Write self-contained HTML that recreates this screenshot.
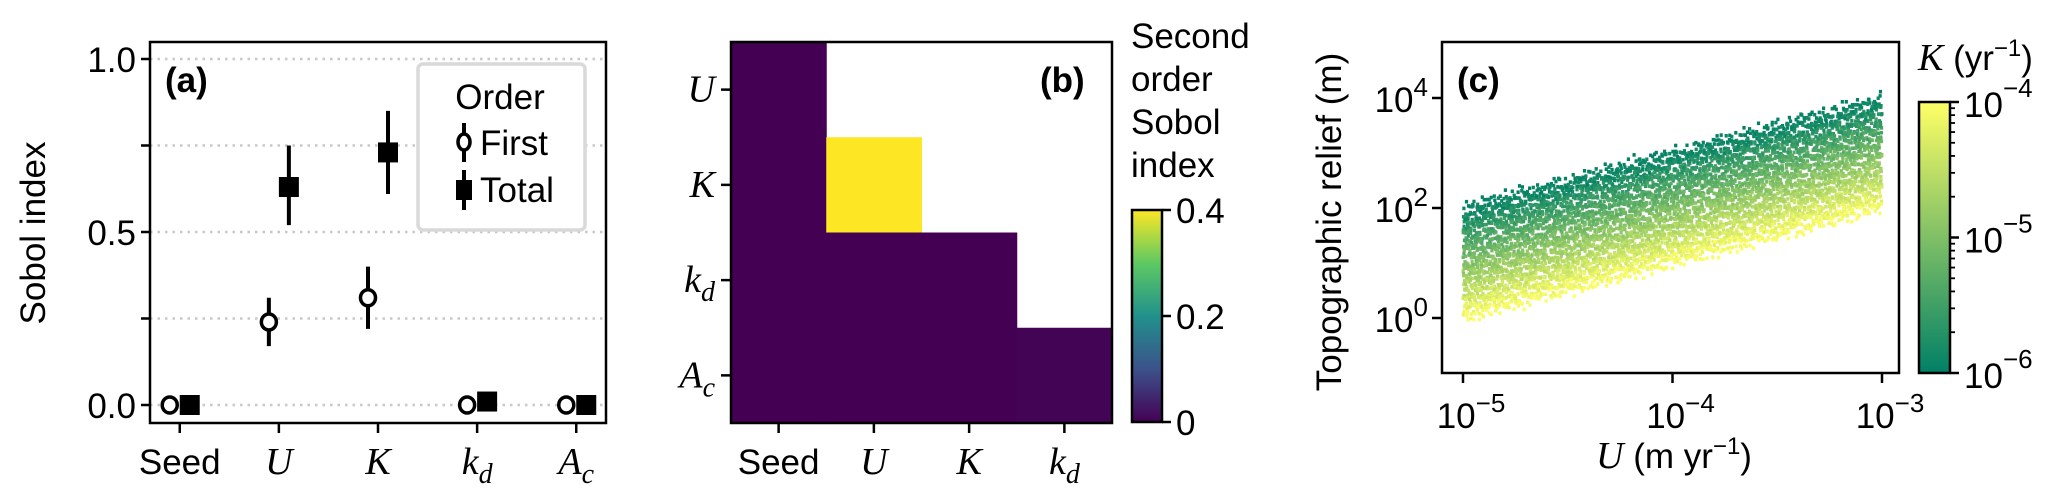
<!DOCTYPE html>
<html><head><meta charset="utf-8">
<style>
html,body{margin:0;padding:0;background:#fff;}
svg{display:block;font-family:"Liberation Sans",sans-serif;}
.t{font-size:35px;fill:#000;}
.m{font-family:"Liberation Serif",serif;font-style:italic;font-size:38px;fill:#000;}
</style></head>
<body>
<svg id="fig" width="2067" height="499" viewBox="0 0 2067 499" xmlns="http://www.w3.org/2000/svg">
<defs>
<linearGradient id="vir" x1="0" y1="1" x2="0" y2="0">
<stop offset="0" stop-color="#440154"/><stop offset="0.25" stop-color="#3b528b"/><stop offset="0.5" stop-color="#21918c"/><stop offset="0.75" stop-color="#5ec962"/><stop offset="1" stop-color="#fde725"/>
</linearGradient>
<linearGradient id="sum" x1="0" y1="1" x2="0" y2="0">
<stop offset="0" stop-color="#008066"/><stop offset="1" stop-color="#ffff66"/>
</linearGradient>
</defs>
<g id="pa"></g>
<g id="pb"></g>
<g id="pc"></g>
</svg>
<script>
// ---- Panel (a) data ----
const aCats = ["Seed","U","K","kd","Ac"];
const firstVals = [0.0, 0.24, 0.31, 0.0, 0.0];
const firstLo = [0.0, 0.17, 0.22, 0.0, 0.0];
const firstHi = [0.0, 0.31, 0.40, 0.0, 0.0];
const totalVals = [0.0, 0.63, 0.73, 0.01, 0.0];
const totalLo = [0.0, 0.52, 0.61, 0.01, 0.0];
const totalHi = [0.0, 0.75, 0.85, 0.01, 0.0];
const aYTicks = [0, 0.25, 0.5, 0.75, 1.0];
const aYTickLabels = ["0.0", "", "0.5", "", "1.0"];
// ---- Panel (b) data ----
const bRows = ["U","K","kd","Ac"];
const bCols = ["Seed","U","K","kd"];
const bVals = [
 [0.0, null, null, null],
 [0.0, 0.40, null, null],
 [0.0, 0.0, 0.0, null],
 [0.0, 0.0, 0.0, 0.004]
];
const bCbTicks = [0, 0.2, 0.4];
const bCbLabels = ["0", "0.2", "0.4"];
// ---- Panel (c) data ----
const cXTicks = [-5, -4, -3];
const cYTicks = [0, 2, 4];
const cCbTicks = [-6, -5, -4];
const cRelief = 10; // relief = cRelief * U / K
const cN = 6500;

const NS = "http://www.w3.org/2000/svg";
function mk(parent, tag, attrs, text){
  const e = document.createElementNS(NS, tag);
  for (const k in attrs) e.setAttribute(k, attrs[k]);
  if (text !== undefined) e.textContent = text;
  parent.appendChild(e);
  return e;
}
function mathLabel(g, sym, x, y, anchor){
  const t = mk(g, "text", {x:x, y:y, "text-anchor":anchor, class:"m"});
  const map = {U:["U",""],K:["K",""],kd:["k","d"],Ac:["A","c"]};
  const p = map[sym];
  const a = document.createElementNS(NS,"tspan"); a.textContent = p[0]; t.appendChild(a);
  if (p[1]) { const b = document.createElementNS(NS,"tspan"); b.setAttribute("dy","9"); b.setAttribute("font-size","28"); b.textContent = p[1]; t.appendChild(b); }
  return t;
}

// ================= Panel (a) =================
(function(){
  const g = document.getElementById("pa");
  const L=150,R=606,T=42,B=423;
  const xs = i => L + (i + 0.3) / 4.6 * (R - L);
  const ys = v => 405 - v * 346;
  aYTicks.forEach((v,i)=>{
    const gl = mk(g,"line",{x1:L,x2:R,y1:ys(v),y2:ys(v),stroke:"#c8c8c8","stroke-width":2.5,"stroke-dasharray":"2.5 5"});
    
    
    mk(g,"line",{x1:L-9,x2:L,y1:ys(v),y2:ys(v),stroke:"#000","stroke-width":2.5});
    if (aYTickLabels[i]) {
      const tl = mk(g,"text",{x:L-14,y:ys(v)+13,"text-anchor":"end",class:"t"},aYTickLabels[i]);
      
      
    }
  });
  aCats.forEach((c,i)=>{
    mk(g,"line",{x1:xs(i),x2:xs(i),y1:B,y2:B+10,stroke:"#000","stroke-width":2.5});
    let lab;
    if (c==="Seed") lab = mk(g,"text",{x:xs(i),y:474,"text-anchor":"middle",class:"t"},"Seed");
    else lab = mathLabel(g,c,xs(i),474,"middle");
    
    
  });
  aCats.forEach((c,i)=>{
    const fx = xs(i)-10, tx = xs(i)+10;
    const e1 = mk(g,"line",{x1:fx,x2:fx,y1:ys(firstLo[i]),y2:ys(firstHi[i]),stroke:"#000","stroke-width":4});
    
    
    const p1 = mk(g,"ellipse",{cx:fx,cy:ys(firstVals[i]),rx:7.5,ry:8,fill:"#fff",stroke:"#000","stroke-width":3.5});
    
    
    const e2 = mk(g,"line",{x1:tx,x2:tx,y1:ys(totalLo[i]),y2:ys(totalHi[i]),stroke:"#000","stroke-width":4});
    
    
    const p2 = mk(g,"rect",{x:tx-10,y:ys(totalVals[i])-10,width:20,height:20,fill:"#000"});
    
    
  });
  const fr = mk(g,"rect",{x:L,y:T,width:R-L,height:B-T,fill:"none",stroke:"#000","stroke-width":2.5});
  
  
  const yl = mk(g,"text",{x:0,y:0,"text-anchor":"middle",class:"t",transform:"translate(45,233) rotate(-90)"},"Sobol index");
  
  
  const pl = mk(g,"text",{x:165,y:92,class:"t","font-weight":"bold","font-size":"32"},"(a)");
  
  
  const lg = mk(g,"g",{});
  
  
  mk(lg,"rect",{x:418,y:64,width:167,height:166,rx:5,fill:"#fff",stroke:"#d9d9d9","stroke-width":3.5});
  mk(lg,"text",{x:500,y:109,"text-anchor":"middle",class:"t"},"Order");
  const le1 = mk(lg,"g",{});
  
  
  mk(le1,"line",{x1:464,x2:464,y1:123,y2:162,stroke:"#000","stroke-width":4});
  mk(le1,"ellipse",{cx:464,cy:142,rx:6,ry:8,fill:"#fff",stroke:"#000","stroke-width":3.5});
  mk(le1,"text",{x:480,y:155,class:"t"},"First");
  const le2 = mk(lg,"g",{});
  
  
  mk(le2,"line",{x1:464,x2:464,y1:170,y2:210,stroke:"#000","stroke-width":4});
  mk(le2,"rect",{x:456,y:180,width:16,height:20,fill:"#000"});
  mk(le2,"text",{x:480,y:202,class:"t"},"Total");
})();

// ================= Panel (b) =================
(function(){
  const g = document.getElementById("pb");
  const L=731,R=1112,T=42,B=423;
  const cw=(R-L)/bCols.length, rh=(B-T)/bRows.length;
  function vir(v){
    const t=Math.max(0,Math.min(1,v/0.4));
    const st=[[68,1,84],[59,82,139],[33,145,140],[94,201,98],[253,231,37]];
    const f=t*4, i=Math.min(3,Math.floor(f)), r=f-i;
    const c=st[i].map((a,k)=>Math.round(a+(st[i+1][k]-a)*r));
    return "rgb("+c.join(",")+")";
  }
  bRows.forEach((rname,r)=>{
    bCols.forEach((cname,c)=>{
      const v=bVals[r][c];
      if (v===null) return;
      const cell = mk(g,"rect",{x:L+c*cw,y:T+r*rh,width:cw+0.5,height:rh+0.5,fill:vir(v)});
      
      
    });
    mk(g,"line",{x1:L-10,x2:L,y1:T+(r+0.5)*rh,y2:T+(r+0.5)*rh,stroke:"#000","stroke-width":2.5});
    const lab = mathLabel(g,rname,L-16,T+(r+0.5)*rh+12,"end");
    
    
  });
  bCols.forEach((cname,c)=>{
    const x=L+(c+0.5)*cw;
    mk(g,"line",{x1:x,x2:x,y1:B,y2:B+10,stroke:"#000","stroke-width":2.5});
    let lab;
    if (cname==="Seed") lab = mk(g,"text",{x:x,y:474,"text-anchor":"middle",class:"t"},"Seed");
    else lab = mathLabel(g,cname,x,474,"middle");
    
    
  });
  const fr = mk(g,"rect",{x:L,y:T,width:R-L,height:B-T,fill:"none",stroke:"#000","stroke-width":2.5});
  
  
  const pl = mk(g,"text",{x:1040,y:92,class:"t","font-weight":"bold","font-size":"32"},"(b)");
  
  
  const cL=1132,cR=1162,cT=210,cB=422;
  const cb = mk(g,"rect",{x:cL,y:cT,width:cR-cL,height:cB-cT,fill:"url(#vir)",stroke:"#000","stroke-width":2.5});
  
  
  bCbTicks.forEach((v,i)=>{
    const y=cB-(v/0.4)*(cB-cT);
    mk(g,"line",{x1:cR,x2:cR+9,y1:y,y2:y,stroke:"#000","stroke-width":2.5});
    const tl = mk(g,"text",{x:cR+14,y:y+13,class:"t"},bCbLabels[i]);
    
    
  });
  const ct = mk(g,"text",{x:1131,y:0,class:"t"});
  
  
  ["Second","order","Sobol","index"].forEach((w,i)=>{
    const s=document.createElementNS(NS,"tspan");
    s.setAttribute("x",1131); s.setAttribute("y",48+i*43); s.textContent=w; ct.appendChild(s);
  });
})();

// ================= Panel (c) =================
(function(){
  const g = document.getElementById("pc");
  const L=1442,R=1899,T=42,B=373;
  const xs = lu => 1463 + (lu + 5) * 209.5;
  const ys = lr => 318 - lr * 55;
  function halton(i,b){let f=1,r=0;while(i>0){f/=b;r+=f*(i%b);i=Math.floor(i/b);}return r;}
  const pts = mk(g,"g",{});
  
  
  for (let i=1;i<=cN;i++){
    const lu=-5+2*halton(i,2);
    const lk=-6+2*halton(i,3);
    const jitter=(halton(i,5)-0.5)*0.3;
    const lr=Math.log10(cRelief)+lu-lk+jitter;
    const t=(lk+6)/2;
    const col="rgb("+Math.round(255*t)+","+Math.round(128+127*t)+",102)";
    const p = mk(pts,"rect",{x:(xs(lu)-1.6).toFixed(1),y:(ys(lr)-1.8).toFixed(1),width:3.2,height:3.6,fill:col});
    
    
  }
  cXTicks.forEach(v=>{
    const x=xs(v);
    mk(g,"line",{x1:x,x2:x,y1:B,y2:B+10,stroke:"#000","stroke-width":2.5});
    const t = mk(g,"text",{x:x+8,y:428,"text-anchor":"middle",class:"t"});
    
    
    t.innerHTML='<tspan>10</tspan><tspan dy="-16" font-size="26">\u2212'+(-v)+'</tspan>';
  });
  cYTicks.forEach(v=>{
    const y=ys(v);
    mk(g,"line",{x1:L-10,x2:L,y1:y,y2:y,stroke:"#000","stroke-width":2.5});
    const t = mk(g,"text",{x:L-14,y:y+14,"text-anchor":"end",class:"t"});
    
    
    t.innerHTML='<tspan>10</tspan><tspan dy="-16" font-size="26">'+v+'</tspan>';
  });
  const fr = mk(g,"rect",{x:L,y:T,width:R-L,height:B-T,fill:"none",stroke:"#000","stroke-width":2.5});
  
  
  const pl = mk(g,"text",{x:1457,y:92,class:"t","font-weight":"bold","font-size":"32"},"(c)");
  
  
  const yl = mk(g,"text",{x:0,y:0,"text-anchor":"middle",class:"t",transform:"translate(1341,222) rotate(-90)"},"Topographic relief (m)");
  
  
  const xl = mk(g,"text",{x:1674,y:468,"text-anchor":"middle",class:"t"});
  
  
  xl.innerHTML='<tspan font-family="Liberation Serif" font-style="italic" font-size="38">U</tspan><tspan> (m yr</tspan><tspan dy="-14" font-size="24">\u22121</tspan><tspan dy="14">)</tspan>';
  const cL=1919,cR=1950,cT=102,cB=373;
  const cb = mk(g,"rect",{x:cL,y:cT,width:cR-cL,height:cB-cT,fill:"url(#sum)",stroke:"#000","stroke-width":2.5});
  
  
  const cy = lk => cB-(lk+6)/2*(cB-cT);
  for (let d=-6; d<-4; d++) for (let m=2;m<=9;m++){
    const y=cy(d+Math.log10(m));
    mk(g,"line",{x1:cR,x2:cR+5,y1:y,y2:y,stroke:"#000","stroke-width":1.8});
  }
  cCbTicks.forEach(v=>{
    const y=cy(v);
    mk(g,"line",{x1:cR,x2:cR+9,y1:y,y2:y,stroke:"#000","stroke-width":2.5});
    const t = mk(g,"text",{x:cR+14,y:y+15,class:"t"});
    
    
    t.innerHTML='<tspan>10</tspan><tspan dy="-20" font-size="26">\u2212'+(-v)+'</tspan>';
  });
  const ct = mk(g,"text",{x:1918,y:70,class:"t"});
  
  
  ct.innerHTML='<tspan font-family="Liberation Serif" font-style="italic" font-size="38">K</tspan><tspan> (yr</tspan><tspan dy="-14" font-size="24">\u22121</tspan><tspan dy="14">)</tspan>';
})();
</script>
</body></html>
